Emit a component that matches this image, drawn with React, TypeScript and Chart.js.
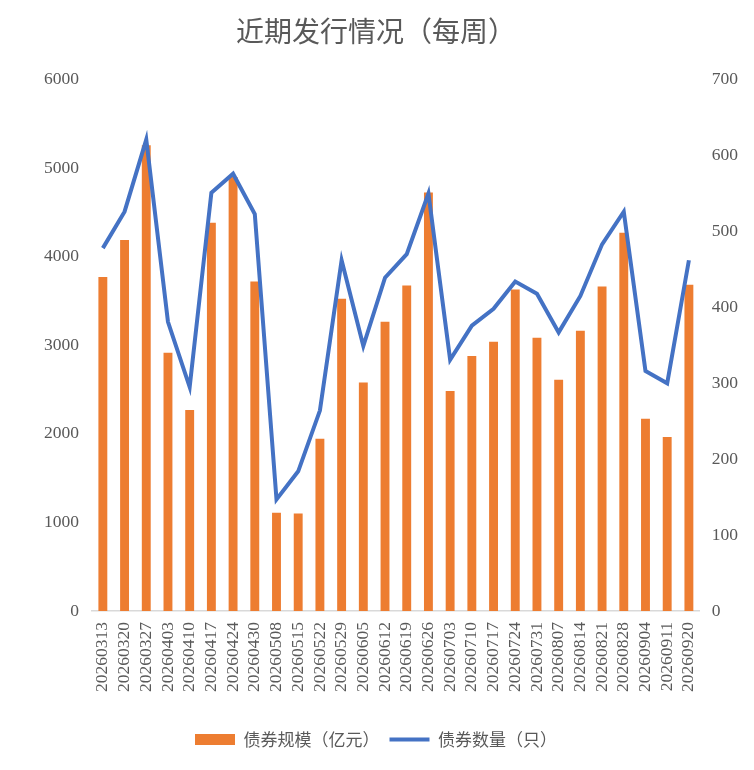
import React, { useEffect, useRef } from "react";
import { Chart, registerables } from "chart.js";

Chart.register(...registerables);

const categories = [
  "20260313", "20260320", "20260327", "20260403", "20260410", "20260417", "20260424",
  "20260430", "20260508", "20260515", "20260522", "20260529", "20260605", "20260612",
  "20260619", "20260626", "20260703", "20260710", "20260717", "20260724", "20260731",
  "20260807", "20260814", "20260821", "20260828", "20260904", "20260911", "20260920",
];

const bondScale = [
  3770, 4190, 5260, 2915, 2270, 4385, 4900, 3720, 1110, 1100, 1945, 3525, 2580, 3265,
  3675, 4725, 2485, 2880, 3040, 3630, 3085, 2610, 3165, 3665, 4270, 2170, 1965, 3685,
];

const bondCount = [
  478, 526, 621, 381, 295, 551, 576, 523, 147, 184, 264, 462, 349, 439,
  470, 550, 331, 376, 398, 434, 418, 367, 415, 483, 526, 316, 300, 462,
];

const seriesNames = ["债券规模（亿元）", "债券数量（只）"];
const titleText = "近期发行情况（每周）";

const ORANGE = "#ED7D31";
const BLUE = "#4472C4";
const GRAY = "#595959";
const TICK_FONT = { family: "'Liberation Serif', serif", size: 17.5 };

export default function App() {
  const ref = useRef<HTMLCanvasElement | null>(null);

  useEffect(() => {
    document.body.style.margin = "0";
    if (!ref.current) return;
    const chart = new Chart(ref.current, {
      data: {
        labels: categories,
        datasets: [
          {
            type: "line",
            label: seriesNames[1],
            data: bondCount,
            yAxisID: "y1",
            borderColor: BLUE,
            backgroundColor: BLUE,
            borderWidth: 4,
            pointRadius: 0,
            tension: 0,
            order: 0,
          },
          {
            type: "bar",
            label: seriesNames[0],
            data: bondScale,
            yAxisID: "y",
            backgroundColor: ORANGE,
            borderWidth: 0,
            categoryPercentage: 1,
            barPercentage: 0.41,
            order: 1,
          },
        ],
      },
      options: {
        animation: false,
        responsive: true,
        maintainAspectRatio: false,
        layout: { padding: { left: 0, right: 2, top: 0, bottom: 12 } },
        plugins: {
          title: {
            display: true,
            text: titleText,
            color: GRAY,
            font: { family: "'Noto Sans CJK SC', sans-serif", size: 28, weight: "normal" },
            padding: { top: 15, bottom: 31 },
          },
          legend: {
            position: "bottom",
            labels: {
              color: GRAY,
              font: { family: "'Noto Sans CJK SC', sans-serif", size: 17 },
              usePointStyle: true,
              pointStyleWidth: 40,
              boxHeight: 11,
              padding: 10,
              generateLabels: () => [
                {
                  text: seriesNames[0],
                  fillStyle: ORANGE,
                  strokeStyle: ORANGE,
                  lineWidth: 0,
                  pointStyle: "rect",
                  datasetIndex: 1,
                  hidden: false,
                  fontColor: GRAY,
                },
                {
                  text: seriesNames[1],
                  fillStyle: BLUE,
                  strokeStyle: BLUE,
                  lineWidth: 4,
                  pointStyle: "line",
                  datasetIndex: 0,
                  hidden: false,
                  fontColor: GRAY,
                },
              ],
            },
          },
          tooltip: { enabled: false },
        },
        scales: {
          x: {
            offset: true,
            grid: { display: false, drawTicks: false },
            border: { display: true, color: "#D9D9D9", width: 1.5 },
            ticks: {
              color: GRAY,
              font: TICK_FONT,
              minRotation: 90,
              maxRotation: 90,
              autoSkip: false,
              padding: 11,
            },
            afterFit: (scale: any) => {
              scale.height += 18;
            },
          },
          y: {
            position: "left",
            min: 0,
            max: 6000,
            grid: { display: false, drawTicks: false },
            border: { display: false },
            ticks: {
              stepSize: 1000,
              color: GRAY,
              font: TICK_FONT,
              padding: 13,
              callback: (v: any) => String(v),
            },
            afterFit: (scale: any) => {
              scale.width += 31;
            },
          },
          y1: {
            position: "right",
            min: 0,
            max: 700,
            grid: { display: false, drawTicks: false },
            border: { display: false },
            ticks: {
              stepSize: 100,
              color: GRAY,
              font: TICK_FONT,
              padding: 12,
              callback: (v: any) => String(v),
            },
            afterFit: (scale: any) => {
              scale.width += 2;
            },
          },
        },
      },
    });
    return () => chart.destroy();
  }, []);

  return (
    <div style={{ position: "absolute", left: 0, top: 0, width: 754, height: 770 }}>
      <canvas ref={ref} />
    </div>
  );
}
